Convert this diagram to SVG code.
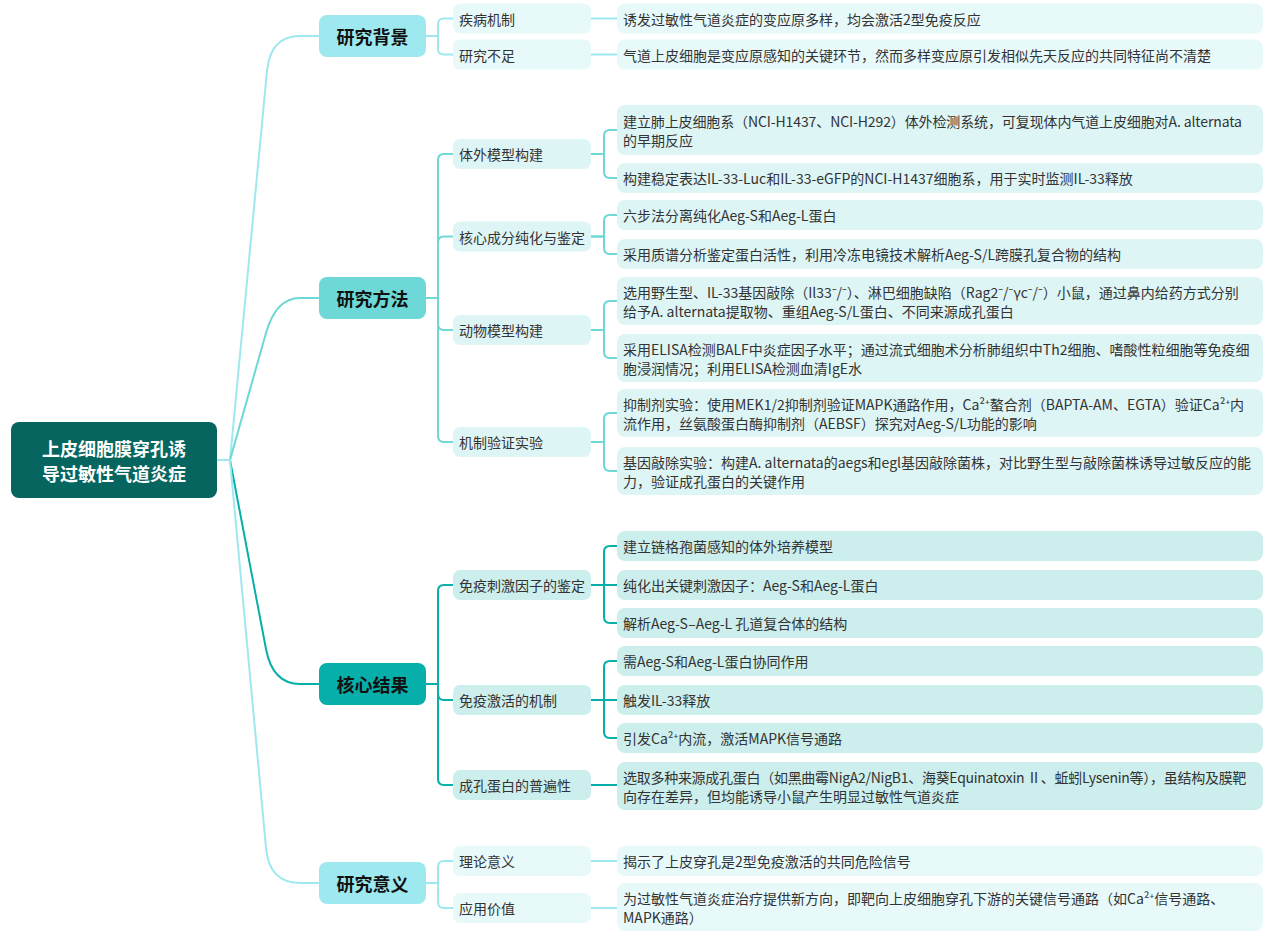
<svg xmlns="http://www.w3.org/2000/svg" width="1269" height="938" viewBox="0 0 1269 938">
<style>
text{font-family:"Noto Sans CJK SC","Noto Sans",sans-serif;dominant-baseline:central}
.root{fill:#06665f}
.rt{fill:#ffffff;font-size:18px;font-weight:bold;text-anchor:middle}
.l1t{fill:#111111;font-size:18px;font-weight:bold;text-anchor:middle}
.t{fill:#333333;font-size:14px}
.tight{letter-spacing:-0.28px}
.fa{fill:#e8f9fa}.fb{fill:#def5f5}.fc{fill:#cceeec}
.ca{stroke:#9ee9ef}.cb{stroke:#6dd8d5}.cc{stroke:#06afa9}
#connectors path{fill:none;stroke-width:2;stroke-linecap:round;stroke-linejoin:round}
</style>
<rect width="1269" height="938" fill="#ffffff"/>
<g id="connectors">
<path class="ca" d="M217,460 H230 L267,71 Q270.3,36 300,36 H319"/>
<path class="cb" d="M217,460 H230 L266,333 Q275.9,298 300,298 H319"/>
<path class="cc" d="M217,460 H230 L266,649 Q272.7,684 300,684 H319"/>
<path class="ca" d="M217,460 H230 L266,848 Q269.2,883 300,883 H319"/>
<path class="ca" d="M426,36 H438 V24.5 Q438,18.5 444,18.5 H453"/>
<path class="ca" d="M426,36 H438 V48.5 Q438,54.5 444,54.5 H453"/>
<path class="cb" d="M426,298 H438 V160 Q438,154 444,154 H453"/>
<path class="cb" d="M426,298 H438 V242.5 Q438,236.5 444,236.5 H453"/>
<path class="cb" d="M426,298 H438 V324 Q438,330 444,330 H453"/>
<path class="cb" d="M426,298 H438 V436 Q438,442 444,442 H453"/>
<path class="cc" d="M426,684 H438 V591 Q438,585 444,585 H453"/>
<path class="cc" d="M426,684 H438 V694 Q438,700 444,700 H453"/>
<path class="cc" d="M426,684 H438 V779 Q438,785 444,785 H453"/>
<path class="ca" d="M426,883 H438 V867 Q438,861 444,861 H453"/>
<path class="ca" d="M426,883 H438 V902 Q438,908 444,908 H453"/>
<path class="ca" d="M591,18.5 H617"/>
<path class="ca" d="M591,54.5 H617"/>
<path class="cb" d="M591,154 H604 V136 Q604,130 610,130 H617"/>
<path class="cb" d="M591,154 H604 V172 Q604,178 610,178 H617"/>
<path class="cb" d="M591,236.5 H604 V221 Q604,215 610,215 H617"/>
<path class="cb" d="M591,236.5 H604 V248 Q604,254 610,254 H617"/>
<path class="cb" d="M591,330 H604 V307 Q604,301 610,301 H617"/>
<path class="cb" d="M591,330 H604 V352 Q604,358 610,358 H617"/>
<path class="cb" d="M591,442 H604 V419 Q604,413 610,413 H617"/>
<path class="cb" d="M591,442 H604 V465 Q604,471 610,471 H617"/>
<path class="cc" d="M591,585 H604 V552 Q604,546 610,546 H617"/>
<path class="cc" d="M591,585 H617"/>
<path class="cc" d="M591,585 H604 V617 Q604,623 610,623 H617"/>
<path class="cc" d="M591,700 H604 V667 Q604,661 610,661 H617"/>
<path class="cc" d="M591,700 H617"/>
<path class="cc" d="M591,700 H604 V732 Q604,738 610,738 H617"/>
<path class="cc" d="M591,785 H617"/>
<path class="ca" d="M591,861 H617"/>
<path class="ca" d="M591,908 H617"/>
</g>
<g id="root">
<rect class="root" x="11" y="422" width="206" height="76" rx="8"/>
<text class="rt" x="114" y="447.5">上皮细胞膜穿孔诱</text>
<text class="rt" x="114" y="472.5">导过敏性气道炎症</text>
</g>
<g id="n-bg">
<rect x="319" y="15" width="107" height="42" rx="8" fill="#9ee9ef"/>
<text class="l1t" x="372.5" y="36">研究背景</text>
</g>
<g id="n-method">
<rect x="319" y="277" width="107" height="42" rx="8" fill="#6dd8d5"/>
<text class="l1t" x="372.5" y="298">研究方法</text>
</g>
<g id="n-result">
<rect x="319" y="663" width="107" height="42" rx="8" fill="#06afa9"/>
<text class="l1t" x="372.5" y="684">核心结果</text>
</g>
<g id="n-meaning">
<rect x="319" y="862" width="107" height="42" rx="8" fill="#9ee9ef"/>
<text class="l1t" x="372.5" y="883">研究意义</text>
</g>
<g id="n-bg-1"><rect class="fa" x="453" y="3.5" width="138" height="30" rx="7"/><text class="t" x="459" y="18.5">疾病机制</text></g>
<g id="n-bg-2"><rect class="fa" x="453" y="39.5" width="138" height="30" rx="7"/><text class="t" x="459" y="54.5">研究不足</text></g>
<g id="n-m-1"><rect class="fb" x="453" y="139" width="138" height="30" rx="7"/><text class="t" x="459" y="154">体外模型构建</text></g>
<g id="n-m-2"><rect class="fb" x="453" y="221.5" width="138" height="30" rx="7"/><text class="t" x="459" y="236.5">核心成分纯化与鉴定</text></g>
<g id="n-m-3"><rect class="fb" x="453" y="315" width="138" height="30" rx="7"/><text class="t" x="459" y="330">动物模型构建</text></g>
<g id="n-m-4"><rect class="fb" x="453" y="427" width="138" height="30" rx="7"/><text class="t" x="459" y="442">机制验证实验</text></g>
<g id="n-r-1"><rect class="fc" x="453" y="570" width="138" height="30" rx="7"/><text class="t" x="459" y="585">免疫刺激因子的鉴定</text></g>
<g id="n-r-2"><rect class="fc" x="453" y="685" width="138" height="30" rx="7"/><text class="t" x="459" y="700">免疫激活的机制</text></g>
<g id="n-r-3"><rect class="fc" x="453" y="770" width="138" height="30" rx="7"/><text class="t" x="459" y="785">成孔蛋白的普遍性</text></g>
<g id="n-s-1"><rect class="fa" x="453" y="846" width="138" height="30" rx="7"/><text class="t" x="459" y="861">理论意义</text></g>
<g id="n-s-2"><rect class="fa" x="453" y="893" width="138" height="30" rx="7"/><text class="t" x="459" y="908">应用价值</text></g>
<g id="d-bg-1"><rect class="fa" x="617" y="3.5" width="646" height="30" rx="8"/><text class="t" x="623" y="18.5">诱发过敏性气道炎症的变应原多样，均会激活2型免疫反应</text></g>
<g id="d-bg-2"><rect class="fa" x="617" y="39.5" width="646" height="30" rx="8"/><text class="t" x="623" y="54.5">气道上皮细胞是变应原感知的关键环节，然而多样变应原引发相似先天反应的共同特征尚不清楚</text></g>
<g id="d-m-1"><rect class="fb" x="617" y="105" width="646" height="50" rx="8"/><text class="t" x="623" y="121" textLength="619" lengthAdjust="spacing">建立肺上皮细胞系（NCI-H1437、NCI-H292）体外检测系统，可复现体内气道上皮细胞对A. alternata</text><text class="t" x="623" y="140">的早期反应</text></g>
<g id="d-m-2"><rect class="fb" x="617" y="163" width="646" height="30" rx="8"/><text class="t" x="623" y="178">构建稳定表达IL-33-Luc和IL-33-eGFP的NCI-H1437细胞系，用于实时监测IL-33释放</text></g>
<g id="d-m-3"><rect class="fb" x="617" y="200" width="646" height="30" rx="8"/><text class="t" x="623" y="215">六步法分离纯化Aeg-S和Aeg-L蛋白</text></g>
<g id="d-m-4"><rect class="fb" x="617" y="239" width="646" height="30" rx="8"/><text class="t" x="623" y="254">采用质谱分析鉴定蛋白活性，利用冷冻电镜技术解析Aeg-S/L跨膜孔复合物的结构</text></g>
<g id="d-m-5"><rect class="fb" x="617" y="277" width="646" height="48" rx="8"/><text class="t" x="623" y="292">选用野生型、IL-33基因敲除（Il33⁻/⁻）、淋巴细胞缺陷（Rag2⁻/⁻γc⁻/⁻）小鼠，通过鼻内给药方式分别</text><text class="t" x="623" y="311">给予A. alternata提取物、重组Aeg-S/L蛋白、不同来源成孔蛋白</text></g>
<g id="d-m-6"><rect class="fb" x="617" y="334" width="646" height="48" rx="8"/><text class="t" x="623" y="349">采用ELISA检测BALF中炎症因子水平；通过流式细胞术分析肺组织中Th2细胞、嗜酸性粒细胞等免疫细</text><text class="t" x="623" y="368">胞浸润情况；利用ELISA检测血清IgE水</text></g>
<g id="d-m-7"><rect class="fb" x="617" y="389" width="646" height="48" rx="8"/><text class="t" x="623" y="404">抑制剂实验：使用MEK1/2抑制剂验证MAPK通路作用，Ca²⁺螯合剂（BAPTA-AM、EGTA）验证Ca²⁺内</text><text class="t" x="623" y="423">流作用，丝氨酸蛋白酶抑制剂（AEBSF）探究对Aeg-S/L功能的影响</text></g>
<g id="d-m-8"><rect class="fb" x="617" y="447" width="646" height="48" rx="8"/><text class="t" x="623" y="462">基因敲除实验：构建A. alternata的aegs和egl基因敲除菌株，对比野生型与敲除菌株诱导过敏反应的能</text><text class="t" x="623" y="481">力，验证成孔蛋白的关键作用</text></g>
<g id="d-r-1"><rect class="fc" x="617" y="531" width="646" height="30" rx="8"/><text class="t" x="623" y="546">建立链格孢菌感知的体外培养模型</text></g>
<g id="d-r-2"><rect class="fc" x="617" y="570" width="646" height="30" rx="8"/><text class="t" x="623" y="585">纯化出关键刺激因子：Aeg-S和Aeg-L蛋白</text></g>
<g id="d-r-3"><rect class="fc" x="617" y="608" width="646" height="30" rx="8"/><text class="t" x="623" y="623">解析Aeg-S–Aeg-L 孔道复合体的结构</text></g>
<g id="d-r-4"><rect class="fc" x="617" y="646" width="646" height="30" rx="8"/><text class="t" x="623" y="661">需Aeg-S和Aeg-L蛋白协同作用</text></g>
<g id="d-r-5"><rect class="fc" x="617" y="685" width="646" height="30" rx="8"/><text class="t" x="623" y="700">触发IL-33释放</text></g>
<g id="d-r-6"><rect class="fc" x="617" y="723" width="646" height="30" rx="8"/><text class="t" x="623" y="738">引发Ca²⁺内流，激活MAPK信号通路</text></g>
<g id="d-r-7"><rect class="fc" x="617" y="762" width="646" height="48" rx="8"/><text class="t tight" x="623" y="777">选取多种来源成孔蛋白（如黑曲霉NigA2/NigB1、海葵Equinatoxin Ⅱ、蚯蚓Lysenin等），虽结构及膜靶</text><text class="t" x="623" y="796">向存在差异，但均能诱导小鼠产生明显过敏性气道炎症</text></g>
<g id="d-s-1"><rect class="fa" x="617" y="846" width="646" height="30" rx="8"/><text class="t" x="623" y="861">揭示了上皮穿孔是2型免疫激活的共同危险信号</text></g>
<g id="d-s-2"><rect class="fa" x="617" y="883" width="646" height="48" rx="8"/><text class="t" x="623" y="898">为过敏性气道炎症治疗提供新方向，即靶向上皮细胞穿孔下游的关键信号通路（如Ca²⁺信号通路、</text><text class="t" x="623" y="917">MAPK通路）</text></g>
</svg>
